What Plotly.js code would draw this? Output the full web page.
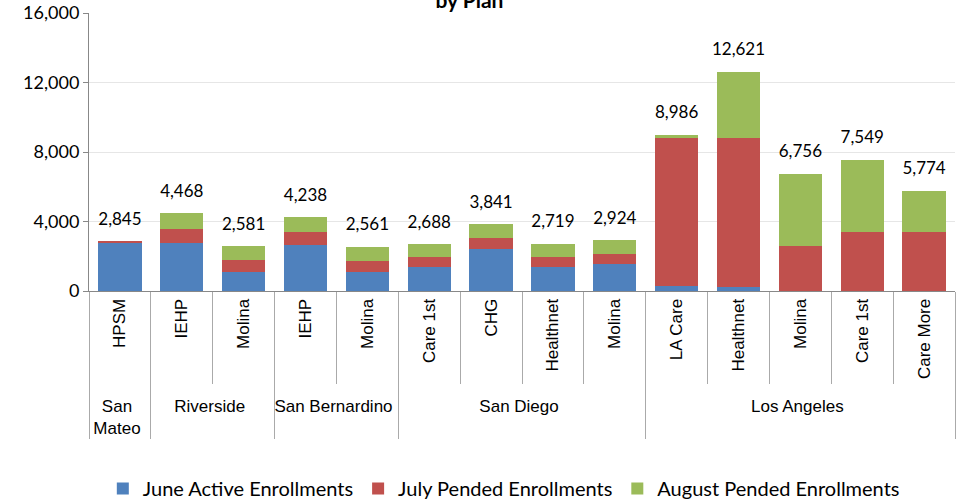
<!DOCTYPE html>
<html><head><meta charset="utf-8">
<script src="https://cdn.plot.ly/plotly-3.0.1.min.js"></script>
<style>body{margin:0;background:#fff}#c{width:964px;height:501px}</style>
</head><body><div id="c"></div>
<script>
const counties = ["San<br>Mateo","Riverside","Riverside","San Bernardino","San Bernardino","San Diego","San Diego","San Diego","San Diego","Los Angeles","Los Angeles","Los Angeles","Los Angeles","Los Angeles"];
const plans = ["HPSM","IEHP","Molina","IEHP","Molina","Care 1st","CHG","Healthnet","Molina","LA Care","Healthnet","Molina","Care 1st","Care More"];
const juneActive = [2790,2780,1070,2630,1120,1370,2400,1410,1580,260,210,0,0,0];
const julyPended = [55,800,690,780,630,610,670,570,570,8570,8570,2610,3410,3410];
const augustPended = [0,888,821,828,811,708,771,739,774,156,3841,4146,4139,2364];
const totals = [2845,4468,2581,4238,2561,2688,3841,2719,2924,8986,12621,6756,7549,5774];

// Plotly orders multicategory items by first appearance of each level;
// make repeated plan names unique (invisible zero-width suffix) to keep the original order.
const seenPlan = {};
const planKeys = plans.map(p => { seenPlan[p] = (seenPlan[p] || 0); const k = p + '\u200b'.repeat(seenPlan[p]); seenPlan[p]++; return k; });

const x = [counties, planKeys];
const font = "Lato, 'Liberation Sans', sans-serif";
const traces = [
  {type:'bar', name:'June Active Enrollments', x:x, y:juneActive, marker:{color:'#4F81BD'}},
  {type:'bar', name:'July Pended Enrollments', x:x, y:julyPended, marker:{color:'#C0504D'}},
  {type:'bar', name:'August Pended Enrollments', x:x, y:augustPended, marker:{color:'#9BBB59'}},
  {type:'scatter', mode:'markers+text', x:x, y:totals, text:totals.map(v=>v.toLocaleString('en-US')),
   textposition:'top center', marker:{size:18, opacity:0}, textfont:{size:17, color:'#000', family:font},
   showlegend:false, hoverinfo:'skip', cliponaxis:false}
];
const layout = {
  width:964, height:501,
  margin:{l:89, r:9, t:13, b:210},
  barmode:'stack', bargap:0.3,
  paper_bgcolor:'#fff', plot_bgcolor:'#fff',
  font:{family:font, size:16, color:'#000'},
  title:{text:'<b>by Plan</b>', font:{size:21, family:font}, x:0.487, xanchor:'center', y:0.984, yref:'container', yanchor:'bottom'},
  xaxis:{type:'multicategory', range:[-0.5,13.5],
    tickangle:-90, showline:true, linecolor:'#888', linewidth:1,
    ticks:'outside', ticklen:92, tickcolor:'#aaa', tickson:'boundaries',
    showdividers:true, dividercolor:'#aaa', dividerwidth:1,
    tickfont:{family:"'Liberation Sans', Arial, sans-serif", size:17}},
  yaxis:{range:[0,16000], dtick:4000, tickformat:',', showline:true, linecolor:'#888', linewidth:1,
    ticks:'outside', ticklen:5, tickcolor:'#888', gridcolor:'#e6e6e6', zeroline:false,
    tickfont:{size:18}},
  legend:{orientation:'h', x:0.479, xanchor:'center', yref:'container', y:0.025, yanchor:'middle',
    font:{size:20}, itemwidth:30, traceorder:'normal'},
  showlegend:true
};
Plotly.newPlot('c', traces, layout, {displayModeBar:false});
</script></body></html>
